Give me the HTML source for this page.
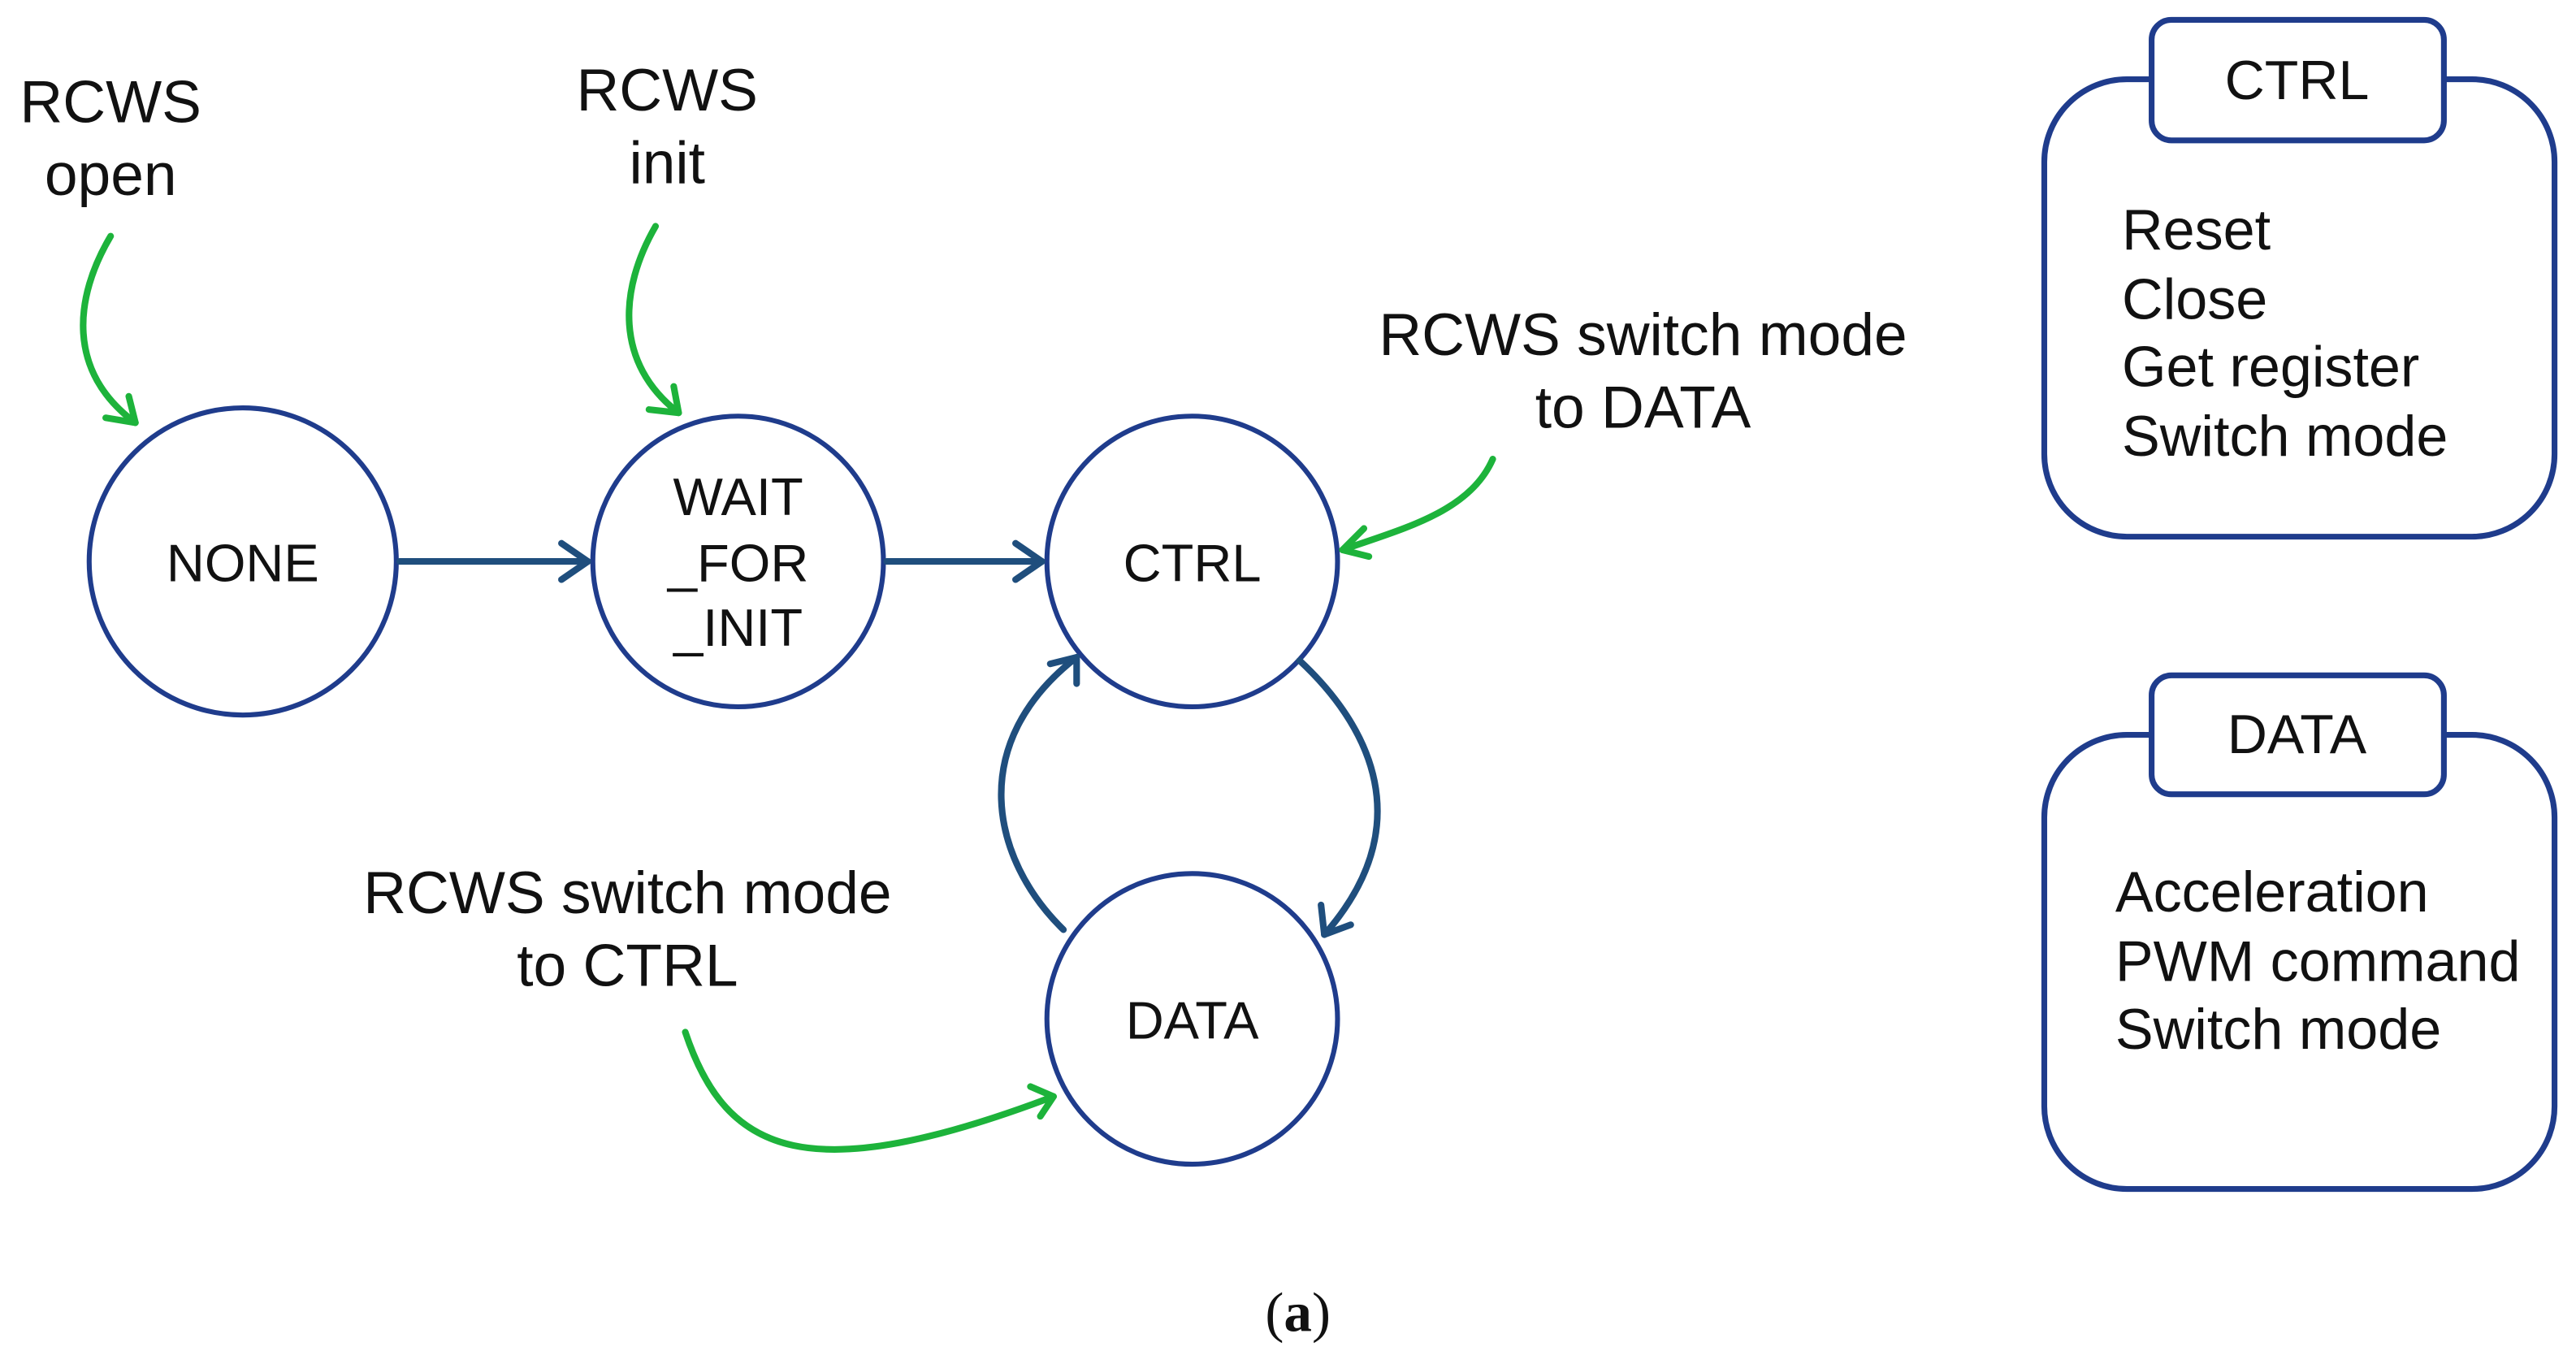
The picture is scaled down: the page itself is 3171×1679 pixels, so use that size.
<!DOCTYPE html>
<html><head><meta charset="utf-8"><style>
html,body{margin:0;padding:0;background:#fff;}
svg{display:block;}
text{font-family:"Liberation Sans",sans-serif;fill:#111;}
</style></head><body>
<svg width="3171" height="1679" viewBox="0 0 1560 826" xmlns="http://www.w3.org/2000/svg">
<g fill="none" stroke="#1f3c8c" stroke-width="3">
<circle cx="147" cy="340" r="93"/>
<circle cx="447" cy="340" r="88"/>
<circle cx="722" cy="340" r="88"/>
<circle cx="722" cy="617" r="88"/>
</g>
<g fill="none" stroke="#1f4e7d" stroke-width="4" stroke-linecap="round" stroke-linejoin="round">
<line x1="242" y1="340" x2="356" y2="340"/>
<polyline points="340,329 356,340 340,351"/>
<line x1="537" y1="340" x2="631" y2="340"/>
<polyline points="615,329 631,340 615,351"/>
<path d="M787,400 C830,440 860,500 802,566"/>
<polyline points="800,548 802,566 818,560"/>
<path d="M644,563 C600,520 585,450 652,398"/>
<polyline points="636,402 652,398 652,414"/>
</g>
<g fill="none" stroke="#1db33b" stroke-width="4" stroke-linecap="round" stroke-linejoin="round">
<path d="M67,143 C45,180 40,225 82,256"/>
<polyline points="64,253 82,256 78,240"/>
<path d="M397,137 C375,175 372,220 411,250"/>
<polyline points="393,248 411,250 408,234"/>
<path d="M904,278 C890,310 850,320 813,333"/>
<polyline points="826,320 813,333 829,337"/>
<path d="M415,625 C440,700 490,720 638,664"/>
<polyline points="624,658 638,664 630,676"/>
</g>
<g font-size="36" text-anchor="middle">
<text x="67" y="74">RCWS</text>
<text x="67" y="118">open</text>
<text x="404" y="67">RCWS</text>
<text x="404" y="111">init</text>
<text x="995" y="215">RCWS switch mode</text>
<text x="995" y="259">to DATA</text>
<text x="380" y="553">RCWS switch mode</text>
<text x="380" y="597">to CTRL</text>
</g>
<g font-size="32" text-anchor="middle">
<text x="147" y="352">NONE</text>
<text x="447" y="312">WAIT</text>
<text x="447" y="352">_FOR</text>
<text x="447" y="391">_INIT</text>
<text x="722" y="352">CTRL</text>
<text x="722" y="629">DATA</text>
</g>
<g fill="#fff" stroke="#1f3c8c" stroke-width="3.5">
<rect x="1238" y="48" width="309" height="277" rx="50"/>
<rect x="1303" y="12" width="177" height="73" rx="12"/>
<rect x="1238" y="445" width="309" height="275" rx="50"/>
<rect x="1303" y="409" width="177" height="72" rx="12"/>
</g>
<g font-size="34.5">
<text x="1391" y="60" text-anchor="middle" font-size="33.5">CTRL</text>
<text x="1285" y="151">Reset</text>
<text x="1285" y="193">Close</text>
<text x="1285" y="234">Get register</text>
<text x="1285" y="276">Switch mode</text>
<text x="1391" y="456" text-anchor="middle" font-size="33.5">DATA</text>
<text x="1281" y="552">Acceleration</text>
<text x="1281" y="594">PWM command</text>
<text x="1281" y="635">Switch mode</text>
</g>
<text x="786" y="806" font-size="34" text-anchor="middle" style="font-family:'Liberation Serif',serif">(<tspan font-weight="bold">a</tspan>)</text>
</svg>
</body></html>
